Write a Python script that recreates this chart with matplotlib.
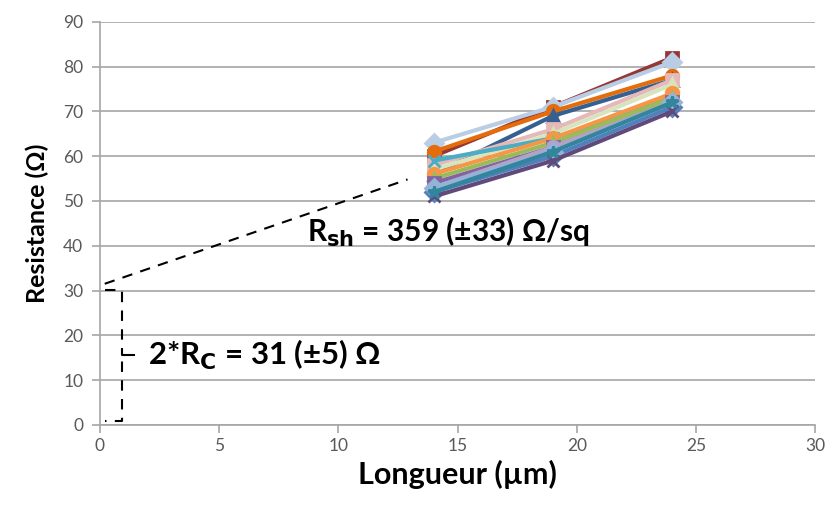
import matplotlib
matplotlib.use("Agg")
import matplotlib.pyplot as plt

lengths = [14, 19, 24]
series_values = [
    [60, 71, 82],
    [63, 71, 81],
    [61, 70, 78],
    [56, 69, 77],
    [58, 66, 77],
    [57, 65, 76],
    [59, 64, 73],
    [56, 64, 74],
    [55, 63, 73],
    [54, 62, 72],
    [53, 62, 72],
    [52, 60, 71],
    [53, 61, 72],
    [51, 59, 70],
    [52, 61, 72],
]
series_colors = ["#953735", "#B9CDE5", "#E46C0A", "#376092", "#E6B9B8", "#D7E4BD",
                 "#4BACC6", "#F79646", "#9BBB59", "#8064A2", "#B3A2C7", "#4F81BD",
                 "#95B3D7", "#604A7B", "#31859C"]
series_markers = ["s", "D", "o", "^", "s", "^", "x", "o", "^", "s", "o", "D", "D", "x", "*"]

fit_x = [0.2, 12.9]
fit_y = [31.5, 54.8]
brace_x = [0.21, 0.92, 0.92, 1.43, 0.92, 0.92, 0.21]
brace_y = [30.1, 30.1, 15.6, 15.6, 15.6, 0.9, 0.9]

xticks = [0, 5, 10, 15, 20, 25, 30]
yticks = [0, 10, 20, 30, 40, 50, 60, 70, 80, 90]

fig = plt.figure(figsize=(8.26, 5.07), dpi=100)
ax = fig.add_axes([0.121, 0.162, 0.866, 0.795])

for vals, c, m in zip(series_values, series_colors, series_markers):
    ax.plot(lengths, vals, color=c, lw=3, marker=m, ms=9, mec=c, mfc=c, mew=2, zorder=3)

ax.plot(fit_x, fit_y, color="black", lw=1.5, ls=(0, (5, 4)), zorder=4)
ax.plot(brace_x, brace_y, color="black", lw=1.5, ls=(0, (5, 4)), zorder=4)

ax.set_xlim(0, 30)
ax.set_ylim(0, 90)
ax.set_xticks(xticks)
ax.set_yticks(yticks)
ax.grid(axis="y", color="#A6A6A6", lw=1.2, zorder=0)
ax.set_axisbelow(True)
for s in ["top", "right"]:
    ax.spines[s].set_visible(False)
for s in ["left", "bottom"]:
    ax.spines[s].set_color("#A6A6A6")
    ax.spines[s].set_linewidth(1.2)
ax.tick_params(axis="both", colors="#A6A6A6", labelcolor="#595959", labelsize=12.5,
               length=6, width=1.2, direction="out")
ax.tick_params(axis="y", pad=6)
for lab in ax.get_xticklabels() + ax.get_yticklabels():
    lab.set_family("Lato")

ax.set_xlabel("Longueur (µm)", fontsize=22, fontweight="bold", family="Lato", labelpad=4)
ax.set_ylabel("Resistance (Ω)", fontsize=18, fontweight="bold", family="Lato", labelpad=10)

ax.text(8.7, 43.1, r"R$_{\mathbf{sh}}$ = 359 (±33) Ω/sq", fontsize=21.5, fontweight="bold",
        family="Lato", va="center", ha="left", zorder=5)
ax.text(2.0, 15.6, r"2*R$_{\mathbf{C}}$ = 31 (±5) Ω", fontsize=22.5, fontweight="bold",
        family="Lato", va="center", ha="left", zorder=5)

fig.savefig("out.png", dpi=100)
